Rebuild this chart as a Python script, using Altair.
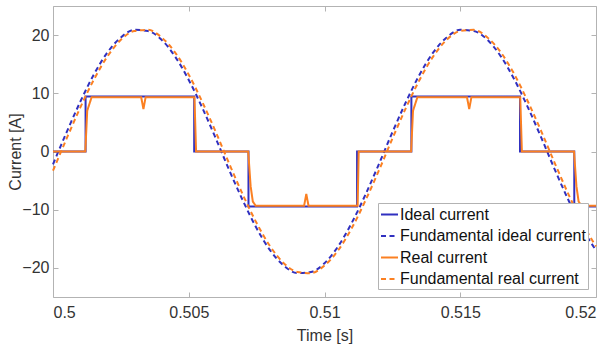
import altair as alt
import pandas as pd

series_names = ["Ideal current", "Fundamental ideal current", "Real current", "Fundamental real current"]
series_colors = ["#3030c0", "#3030c0", "#fb8022", "#fb8022"]
series_dashes = [[1, 0], [5, 3.5], [1, 0], [5, 3.5]]

x_ticks = [0.5, 0.505, 0.51, 0.515, 0.52]
y_ticks = [-20, -10, 0, 10, 20]

fund_t = [0.5, 0.5005, 0.501, 0.5015, 0.502, 0.5025, 0.503, 0.5035, 0.504, 0.5045,
          0.505, 0.5055, 0.506, 0.5065, 0.507, 0.5075, 0.508, 0.5085, 0.509, 0.5095,
          0.51, 0.5105, 0.511, 0.5115, 0.512, 0.5125, 0.513, 0.5135, 0.514, 0.5145,
          0.515, 0.5155, 0.516, 0.5165, 0.517, 0.5175, 0.518, 0.5185, 0.519, 0.5195, 0.52]
ideal_fund = [-2.2, 3.3, 8.5, 13.2, 17.0, 19.6, 20.9, 20.7, 19.2, 16.3,
              12.3, 7.5, 2.2, -3.3, -8.5, -13.2, -17.0, -19.6, -20.9, -20.7,
              -19.2, -16.3, -12.3, -7.5, -2.2, 3.3, 8.5, 13.2, 17.0, 19.6,
              20.9, 20.7, 19.2, 16.3, 12.3, 7.5, 2.2, -3.3, -8.5, -13.2, -17.0]
real_fund = [-3.3, 2.2, 7.5, 12.3, 16.3, 19.2, 20.7, 20.9, 19.6, 17.0,
             13.2, 8.5, 3.3, -2.2, -7.5, -12.3, -16.3, -19.2, -20.7, -20.9,
             -19.6, -17.0, -13.2, -8.5, -3.3, 2.2, 7.5, 12.3, 16.3, 19.2,
             20.7, 20.9, 19.6, 17.0, 13.2, 8.5, 3.3, -2.2, -7.5, -12.3, -16.3]

ideal_t = [0.5, 0.5012, 0.5012, 0.5052, 0.5052, 0.5072, 0.5072, 0.5112,
           0.5112, 0.5132, 0.5132, 0.5172, 0.5172, 0.5192, 0.5192, 0.52]
ideal_i = [0, 0, 9.45, 9.45, 0, 0, -9.45, -9.45, 0, 0, 9.45, 9.45, 0, 0, -9.45, -9.45]

real_t = [0.5, 0.50119, 0.50126, 0.50142, 0.50325, 0.50333, 0.50341, 0.50521, 0.50527,
          0.50719, 0.50728, 0.50736, 0.50746, 0.50925, 0.50933, 0.50941, 0.51122, 0.51126,
          0.51319, 0.51326, 0.51342, 0.51525, 0.51533, 0.51541, 0.51721, 0.51727,
          0.51919, 0.51928, 0.51936, 0.51946, 0.52]
real_i = [0, 0, 7.0, 9.3, 9.3, 7.3, 9.3, 9.3, 0,
          0, -6.0, -8.6, -9.3, -9.3, -7.3, -9.3, -9.3, 0,
          0, 7.0, 9.3, 9.3, 7.3, 9.3, 9.3, 0,
          0, -6.0, -8.6, -9.3, -9.3]

rows = []
for name, ts, vs in [
    (series_names[0], ideal_t, ideal_i),
    (series_names[1], fund_t, ideal_fund),
    (series_names[2], real_t, real_i),
    (series_names[3], fund_t, real_fund),
]:
    for k, (t, v) in enumerate(zip(ts, vs)):
        rows.append({"series": name, "t": t, "i": v, "idx": k})
df = pd.DataFrame(rows)

xscale = alt.Scale(domain=[0.5, 0.52], nice=False, zero=False)
yscale = alt.Scale(domain=[-25, 25], nice=False, zero=False)
color = alt.Color("series:N", scale=alt.Scale(domain=series_names, range=series_colors),
                  legend=alt.Legend(title=None))
dash = alt.StrokeDash("series:N", scale=alt.Scale(domain=series_names, range=series_dashes),
                      legend=alt.Legend(title=None))

axis_x_main = alt.Axis(orient="bottom", values=x_ticks, format="~g", offset=-5, tickSize=5,
                       labelPadding=7, title="Time [s]", titlePadding=7)
axis_y_main = alt.Axis(orient="left", values=y_ticks, offset=-5, tickSize=5,
                       labelPadding=4, title="Current [A]", titlePadding=-2)
axis_x_top = alt.Axis(orient="top", values=x_ticks, offset=-5, tickSize=5, labels=False, title=None)
axis_y_right = alt.Axis(orient="right", values=y_ticks, offset=-5, tickSize=5, labels=False, title=None)

layers = []
for n, name in enumerate(series_names):
    interp = "monotone" if "Fundamental" in name else "linear"
    if n == 0:
        ax, ay = axis_x_main, axis_y_main
    elif n == 1:
        ax, ay = axis_x_top, axis_y_right
    else:
        ax, ay = None, None
    layer = alt.Chart(df).transform_filter(alt.datum.series == name).mark_line(
        strokeWidth=2, interpolate=interp
    ).encode(
        x=alt.X("t:Q", scale=xscale, axis=ax),
        y=alt.Y("i:Q", scale=yscale, axis=ay),
        color=color,
        strokeDash=dash,
        order=alt.Order("idx:Q"),
    )
    layers.append(layer)

chart = alt.layer(*layers).resolve_axis(x="independent", y="independent").properties(
    width=543, height=291,
    autosize=alt.AutoSizeParams(type="none"),
    padding={"left": 53, "top": 6, "right": 18, "bottom": 48},
).configure(
    font="Liberation Sans",
).configure_view(
    stroke="#b3b3b3", strokeWidth=1
).configure_axis(
    domain=False, grid=False, tickColor="#b3b3b3", labelFontSize=16, labelColor="#333333",
    titleFontSize=16, titleFontWeight="normal", titleColor="#333333",
).configure_legend(
    orient="bottom-right", offset=8, fillColor="white", strokeColor="#b3b3b3",
    padding=2, symbolType="stroke", symbolSize=289, symbolStrokeWidth=2,
    labelFontSize=16, labelColor="#111111", labelOffset=1, rowPadding=3.5, labelLimit=300,
)

chart.save("out.html", embed_options={"renderer": "svg", "actions": False})
